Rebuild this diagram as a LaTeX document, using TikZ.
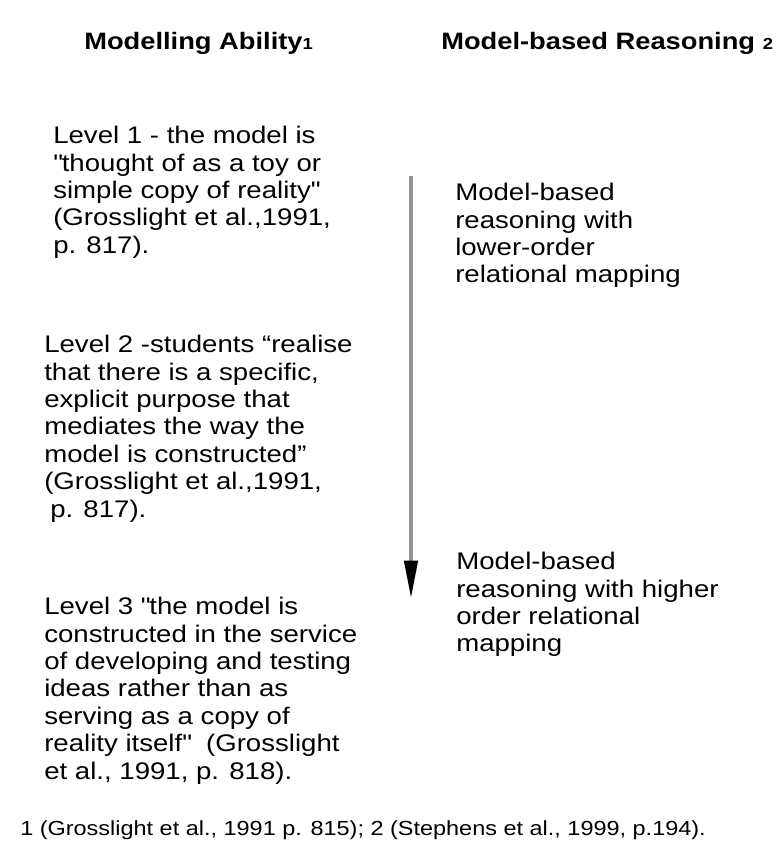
\documentclass[tikz,border=0pt]{standalone}
\usepackage{fontspec}
\setmainfont{Liberation Sans}[FakeStretch=1.15]
\usepackage{tikz}
\usetikzlibrary{arrows.meta,positioning}
\tikzset{%
	heading/.style  = {anchor=base west, inner sep=0pt, font=\fontsize{17.8}{22}\selectfont\bfseries}, % Column title
	level/.style    = {anchor=north west, inner sep=0pt, align=left, font=\fontsize{18}{20.55}\selectfont}, % Text block
	note/.style     = {anchor=base west, inner sep=0pt, font=\fontsize{15.3}{18}\selectfont}, % Footnote
	waypoint/.style = {coordinate},
	arrow/.style    = {line width=2.6pt, draw=gray!85, -{Triangle[length=28pt,width=10pt,color=black]}},
}
\newcommand{\refmark}[1]{{\fontsize{12}{12}\selectfont #1}}
\begin{document}
\begin{tikzpicture}[x=0.75pt,y=-0.75pt]
	\useasboundingbox (0,0) rectangle (784,863);
	\node[heading] (ability) at (84,50) {Modelling Ability\refmark{1}};
	\node[heading] (reasoning) at (441,50) {Model-based Reasoning \refmark{2}};
	\node[level] (lvlone) at (53,126) {Level 1 - the model is\\\textquotedbl thought of as a toy or\\simple copy of reality\textquotedbl\\(Grosslight et al.,1991,\\p. 817).};
	\node[level] (lvltwo) at (44,335) {Level 2 -students “realise\\that there is a specific,\\explicit purpose that\\mediates the way the\\model is constructed”\\(Grosslight et al.,1991,\\\hspace*{4.5pt}p. 817).};
	\node[level] (lvlthree) at (44,597) {Level 3 \textquotedbl the model is\\constructed in the service\\of developing and testing\\ideas rather than as\\serving as a copy of\\reality itself\textquotedbl\ \ (Grosslight\\et al., 1991, p. 818).};
	\node[level] (lower) at (455,183) {Model-based\\reasoning with\\lower-order\\relational mapping};
	\node[level] (higher) at (456,552) {Model-based\\reasoning with higher\\order relational\\mapping};
	\node[note] (sources) at (20,835) {1 (Grosslight et al., 1991 p. 815); 2 (Stephens et al., 1999, p.194).};
	\node[waypoint] (start) at (411,176) {};
	\node[waypoint] (tip) at (411,598) {};
	\draw[arrow] (start) -- (tip);
\end{tikzpicture}
\end{document}
